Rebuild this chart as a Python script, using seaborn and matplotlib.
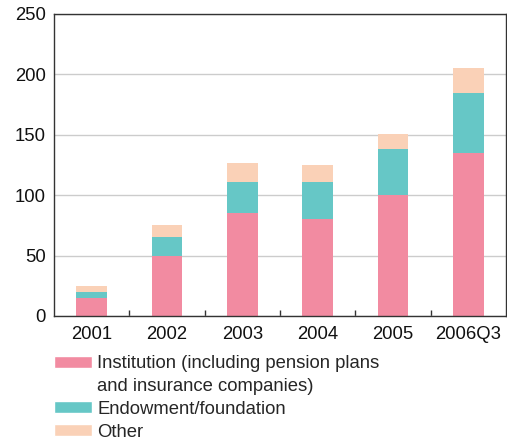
import matplotlib
matplotlib.use("Agg")
import matplotlib.pyplot as plt
import seaborn as sns
import pandas as pd
import numpy as np
from matplotlib.patches import Patch

years = ["2001", "2002", "2003", "2004", "2005", "2006Q3"]
institution = [15, 50, 85, 80, 100, 135]
endowment = [5, 15, 26, 31, 38, 50]
other = [5, 10, 16, 14, 13, 20]
labels = ["Institution (including pension plans\nand insurance companies)",
          "Endowment/foundation", "Other"]
colors = ["#F28BA1", "#66C7C6", "#FAD1B7"]

sns.set_theme(style="white")
plt.rcParams['font.family'] = ['Liberation Sans', 'DejaVu Sans']

df = pd.DataFrame({"year": years, "inst": institution, "endow": endowment, "other": other})
df["c1"] = df["inst"]
df["c2"] = df["inst"] + df["endow"]
df["c3"] = df["c2"] + df["other"]

fig = plt.figure(figsize=(5.07, 4.43), dpi=100)
ax = fig.add_axes([0.1065, 0.2867, 0.8915, 0.6817])

for col, c in zip(["c3", "c2", "c1"], colors[::-1]):
    sns.barplot(data=df, x="year", y=col, color=c, ax=ax, width=0.41,
                saturation=1, edgecolor="none", linewidth=0, zorder=3)

FS = 13.3
ax.set_xlim(-0.5, 5.5)
ax.set_ylim(0, 250)
ax.set_yticks([0, 50, 100, 150, 200, 250])
ax.set_xlabel("")
ax.set_ylabel("")
ax.grid(axis="y", color="#cccccc", linewidth=1.0, zorder=0)
ax.set_axisbelow(True)
for s in ax.spines.values():
    s.set_color("#333333")
    s.set_linewidth(1.0)
    s.set_zorder(5)
ax.tick_params(axis="y", length=0, pad=6, labelsize=FS, labelcolor="#111111")
ax.tick_params(axis="x", length=0, pad=7, labelsize=FS, labelcolor="#111111")
ax.set_xticks(np.arange(0.5, 5.0, 1.0), minor=True)
ax.tick_params(axis="x", which="minor", direction="in", length=4.5, width=1.0,
               color="#333333", bottom=True)

handles = [Patch(facecolor=colors[0]), Patch(facecolor="none", edgecolor="none"),
           Patch(facecolor=colors[1]), Patch(facecolor=colors[2])]
leg_labels = ["Institution (including pension plans", "and insurance companies)",
              labels[1], labels[2]]
fig.legend(handles, leg_labels, loc="upper left", bbox_to_anchor=(0.1065, 0.1986),
           frameon=False, fontsize=FS, handlelength=2.05, handleheight=0.62,
           handletextpad=0.3, labelspacing=0.32, borderpad=0, borderaxespad=0)

fig.savefig("out.png", dpi=100)
